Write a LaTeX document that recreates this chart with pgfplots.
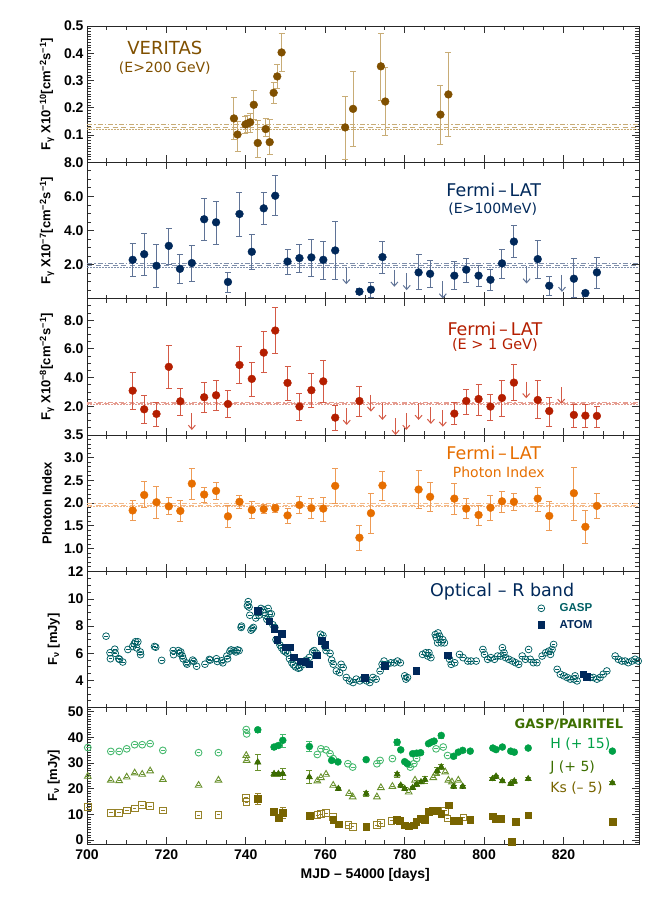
\documentclass[border=0pt]{standalone}
\usepackage{fontspec}
\setmainfont{Liberation Sans}
\newfontfamily\dv{DejaVu Sans}
\usepackage{pgfplots}
\pgfplotsset{compat=1.18}
\usepackage{pgfplotstable}
\usetikzlibrary{arrows.meta}

\definecolor{ver}{RGB}{128,80,0}
\definecolor{verE}{RGB}{200,172,118}
\definecolor{lat}{RGB}{0,40,90}
\definecolor{latE}{RGB}{95,115,150}
\definecolor{gev}{RGB}{180,30,0}
\definecolor{gevE}{RGB}{212,90,70}
\definecolor{idx}{RGB}{230,110,0}
\definecolor{idxE}{RGB}{238,155,85}
\definecolor{gasp}{RGB}{0,95,100}
\definecolor{atom}{RGB}{0,40,90}
\definecolor{hb}{RGB}{0,160,70}
\definecolor{hbO}{RGB}{70,185,110}
\definecolor{jb}{RGB}{60,110,0}
\definecolor{jbO}{RGB}{105,145,45}
\definecolor{kb}{RGB}{120,100,0}
\definecolor{kbO}{RGB}{150,130,40}

% open symbols with the small error dash inside
\pgfdeclareplotmark{odash}{%
  \pgfpathcircle{\pgfpointorigin}{\pgfplotmarksize}\pgfusepathqstroke
  \pgfpathmoveto{\pgfqpoint{-0.55\pgfplotmarksize}{0pt}}%
  \pgfpathlineto{\pgfqpoint{0.55\pgfplotmarksize}{0pt}}\pgfusepathqstroke}
\pgfdeclareplotmark{sdash}{%
  \pgfpathrectangle{\pgfqpoint{-\pgfplotmarksize}{-\pgfplotmarksize}}{\pgfqpoint{2\pgfplotmarksize}{2\pgfplotmarksize}}\pgfusepathqstroke
  \pgfpathmoveto{\pgfqpoint{-0.55\pgfplotmarksize}{0pt}}%
  \pgfpathlineto{\pgfqpoint{0.55\pgfplotmarksize}{0pt}}\pgfusepathqstroke}
\pgfdeclareplotmark{tdash}{%
  \pgfpathmoveto{\pgfqpointpolar{90}{1.2\pgfplotmarksize}}%
  \pgfpathlineto{\pgfqpointpolar{210}{1.2\pgfplotmarksize}}%
  \pgfpathlineto{\pgfqpointpolar{330}{1.2\pgfplotmarksize}}%
  \pgfpathclose\pgfusepathqstroke
  \pgfpathmoveto{\pgfqpoint{-0.45\pgfplotmarksize}{0pt}}%
  \pgfpathlineto{\pgfqpoint{0.45\pgfplotmarksize}{0pt}}\pgfusepathqstroke}

\pgfplotsset{
  panel/.style={
    scale only axis, width=552pt, height=136.33pt, anchor=south west,
    xmin=700, xmax=839,
    xtick={700,720,...,820}, minor xtick={705,710,...,835}, xticklabels={},
    tick align=inside, major tick length=7pt, minor tick length=4pt,
    tick style={black!80, line width=0.8pt},
    axis line style={black!85, line width=0.9pt},
    yticklabel style={font=\bfseries\fontsize{14}{14}\selectfont},
    ylabel style={font=\bfseries\fontsize{13}{13}\selectfont,
      at={(axis description cs:-0.0725,0.5)}, anchor=center},
  },
  ebar/.style={only marks, mark=none, forget plot,
    error bars/.cd, y dir=both, y explicit,
    error bar style={line width=1pt, color=#1, mark size=3pt}},
  dot/.style={only marks, mark=*, mark size=3.9pt, color=#1},
  ul/.style={quiver={u=0,v=#1}, mark=none, line width=1pt,
    -{Straight Barb[length=4pt,width=7pt]}},
  mdot/.style={line width=0.8pt, dash pattern=on 1.6pt off 1.4pt, forget plot},
  mdash/.style={line width=0.8pt, dash pattern=on 5pt off 3.5pt, forget plot},
  mdd/.style={line width=0.8pt, dash pattern=on 5pt off 2pt on 1.5pt off 2pt, forget plot},
}

% ---------------- data ----------------
\pgfplotstableread{
x y lo hi
737.0 0.161 0.083 0.240
737.9 0.102 0.040 0.151
739.9 0.139 0.105 0.169
740.4 0.142 0.110 0.172
741.1 0.147 0.110 0.180
742.0 0.211 0.157 0.265
743.0 0.071 0.017 0.154
745.0 0.122 0.094 0.160
746.0 0.074 0.030 0.157
747.0 0.255 0.218 0.295
747.9 0.315 0.272 0.360
749.0 0.403 0.335 0.475
765.0 0.128 0.010 0.244
767.0 0.196 0.059 0.333
774.0 0.352 0.228 0.475
775.1 0.223 0.098 0.348
789.0 0.175 0.065 0.284
791.0 0.249 0.094 0.403
}\tver

\pgfplotstableread{
x y lo hi
711.5 2.28 1.33 3.27
714.4 2.61 1.40 3.84
717.5 1.93 0.66 3.18
720.6 3.10 2.05 4.15
723.4 1.75 0.92 2.63
726.4 2.09 1.03 3.12
729.5 4.66 3.41 5.87
732.5 4.48 3.22 5.73
735.5 0.98 0.39 1.54
738.4 4.97 3.67 6.26
741.5 2.75 1.74 3.76
744.5 5.30 4.37 6.26
747.4 6.04 4.89 7.23
750.5 2.18 1.46 2.92
753.5 2.38 1.58 3.18
756.5 2.42 1.30 3.49
759.5 2.28 1.17 3.39
762.5 2.83 1.17 4.52
768.6 0.41 0.25 0.60
771.5 0.53 0.10 0.95
774.4 2.44 1.50 3.37
783.5 1.54 0.53 2.61
786.4 1.46 0.68 2.28
792.5 1.35 0.53 2.18
795.5 1.70 0.99 2.36
798.6 1.35 0.72 1.99
801.6 1.11 0.47 1.75
804.5 2.07 1.21 2.92
807.5 3.35 2.44 4.29
813.5 2.32 1.21 3.41
816.4 0.76 0.19 1.30
822.6 1.17 0.10 2.36
825.5 0.33 0.15 0.50
828.4 1.54 0.63 2.44
}\tlat

\pgfplotstableread{
x y
765.3 1.85
777.4 1.70
780.5 1.50
789.6 1.01
810.7 1.89
819.6 1.40
}\tlatul

\pgfplotstableread{
x y lo hi
711.5 3.09 1.81 4.35
714.4 1.79 0.82 2.79
717.5 1.47 0.63 2.32
720.6 4.75 3.26 6.26
723.5 2.35 1.37 3.28
729.5 2.63 1.60 3.65
732.5 2.77 1.74 3.84
735.5 2.16 1.23 3.14
738.4 4.88 3.61 6.16
741.5 3.91 2.72 5.05
744.5 5.74 4.37 7.21
747.4 7.28 5.70 8.88
750.5 3.63 2.44 4.81
753.5 1.98 1.05 2.88
756.5 3.12 1.93 4.28
759.5 3.74 2.30 5.19
762.5 1.21 0.35 2.09
768.6 2.37 1.28 3.40
792.5 1.49 0.75 2.30
795.5 2.37 1.47 3.21
798.6 2.51 1.40 3.51
801.6 1.98 1.05 2.86
804.5 2.58 1.28 3.82
807.5 3.65 2.39 4.93
813.5 2.44 1.16 3.82
816.4 1.67 0.63 2.60
822.6 1.40 0.54 2.16
825.5 1.35 0.54 2.14
828.4 1.33 0.54 2.04
}\tgev

\pgfplotstableread{
x y
726.4 1.51
765.4 1.86
771.5 2.79
774.4 2.21
777.7 1.16
780.4 1.51
783.5 2.21
786.6 1.93
789.6 1.74
810.6 3.72
819.4 3.33
}\tgevul

\pgfplotstableread{
x y lo hi
711.5 1.84 1.63 2.06
714.4 2.18 1.91 2.48
717.5 2.02 1.67 2.37
720.6 1.93 1.75 2.13
723.5 1.83 1.61 2.06
726.4 2.43 2.09 2.78
729.5 2.19 2.02 2.35
732.5 2.27 2.09 2.46
735.5 1.71 1.47 1.95
738.4 2.03 1.89 2.18
741.5 1.85 1.68 2.04
744.5 1.87 1.77 1.97
747.4 1.89 1.80 1.98
750.5 1.73 1.56 1.90
753.5 1.96 1.78 2.15
756.5 1.89 1.67 2.10
759.5 1.88 1.60 2.13
762.5 2.38 2.01 2.77
768.6 1.24 0.97 1.51
771.5 1.78 1.34 2.22
774.4 2.39 2.07 2.70
783.5 2.30 1.89 2.72
786.4 2.14 1.83 2.46
792.5 2.10 1.76 2.44
795.5 1.88 1.67 2.10
798.6 1.74 1.52 1.96
801.6 1.90 1.63 2.18
804.5 2.04 1.80 2.26
807.5 2.03 1.85 2.21
813.5 2.10 1.83 2.35
816.4 1.72 1.40 2.04
822.6 2.22 1.63 2.79
825.5 1.48 1.12 1.85
828.4 1.94 1.66 2.22
}\tidx

\pgfplotstableread{
x y
704.8 7.26
705.8 6.04
705.9 5.60
707.0 6.30
707.1 6.00
708.0 5.60
708.2 5.55
709.0 5.36
710.3 6.28
711.5 6.50
711.9 6.70
712.2 6.85
712.5 6.40
712.8 6.85
713.4 6.10
713.5 5.90
717.0 6.50
717.3 6.45
718.8 5.48
721.7 6.20
721.8 5.90
723.0 6.20
723.3 6.00
723.6 6.10
724.0 5.80
724.2 5.60
725.0 5.30
725.2 5.20
726.6 5.50
726.9 5.40
727.6 5.05
729.7 5.20
730.8 5.55
731.0 5.50
732.6 5.60
732.8 5.40
733.9 5.45
734.2 5.30
735.2 5.80
735.4 5.60
736.0 6.15
736.3 6.25
737.0 6.20
737.5 6.10
737.9 6.25
738.3 6.20
738.8 7.90
738.9 8.00
740.4 9.50
740.6 9.80
740.8 9.40
741.0 8.80
741.3 7.70
741.6 7.80
741.9 7.90
742.5 8.60
743.0 9.00
743.3 8.80
743.8 9.30
744.5 9.20
744.9 8.80
745.3 8.50
745.6 9.30
745.9 8.90
746.4 8.90
746.8 8.10
747.3 7.90
747.6 7.00
748.0 6.90
748.6 6.60
749.0 6.40
749.5 6.20
750.0 6.10
750.5 6.00
751.0 5.60
751.6 5.30
752.0 5.15
752.5 5.00
753.2 4.90
753.6 4.95
754.5 5.20
755.2 5.50
756.0 5.70
756.8 6.10
757.2 6.20
757.8 6.00
758.8 7.40
759.4 7.30
759.9 6.50
760.2 6.20
761.2 6.00
761.6 5.50
762.0 5.20
762.8 4.70
763.6 4.58
764.0 5.19
764.5 4.95
765.3 4.22
766.1 3.97
767.0 3.85
767.8 4.10
768.7 3.97
769.5 4.10
770.4 3.97
771.2 3.85
772.0 4.22
772.8 4.10
773.8 4.70
774.3 5.19
774.8 5.43
775.6 5.19
776.5 5.30
777.4 5.30
778.2 5.43
778.9 5.30
780.0 4.34
780.3 4.10
780.7 4.22
784.5 5.92
785.3 6.04
785.8 5.80
786.1 6.04
786.6 5.68
787.7 7.38
788.0 7.14
788.3 6.77
788.4 7.50
788.8 7.26
789.2 6.77
789.6 7.00
790.0 6.77
791.3 5.56
791.7 5.19
792.6 5.30
793.8 5.92
794.7 5.68
795.9 5.43
796.7 5.43
798.0 5.43
799.7 6.28
800.1 5.92
800.9 5.56
801.7 5.68
802.6 5.56
803.4 5.80
804.2 5.80
804.6 6.41
805.0 6.04
805.4 5.68
806.2 5.56
807.1 5.43
807.9 5.31
808.7 5.19
809.6 5.80
810.4 5.56
811.2 6.28
811.6 5.56
812.4 5.31
813.3 5.31
814.6 5.80
815.5 6.04
816.3 6.16
816.7 5.92
817.1 6.28
817.5 6.65
818.4 4.82
819.2 4.46
820.1 4.34
820.9 4.22
821.7 4.10
822.6 4.10
822.9 4.34
823.4 3.97
826.7 4.22
827.5 4.22
828.4 4.10
829.2 4.22
830.0 4.46
830.9 4.70
833.0 5.80
833.8 5.56
834.7 5.43
835.5 5.43
836.3 5.31
837.2 5.43
838.0 5.56
838.8 5.43
}\tgasp

\pgfplotstableread{
x y
743.0 9.13
745.9 8.35
747.1 7.80
747.9 7.00
749.0 7.43
750.1 6.45
751.0 6.45
752.0 5.72
753.8 5.43
754.9 5.40
756.0 5.19
757.8 5.87
759.1 6.94
760.0 6.65
769.9 4.22
774.9 5.07
782.9 4.70
790.8 5.87
824.9 4.46
825.9 4.27
}\tatom

% near-IR: open = GASP, filled = PAIRITEL
\pgfplotstableread{
x y
700.2 36.0
706.0 34.5
708.1 34.5
710.0 35.5
712.0 37.1
713.9 37.1
715.9 37.5
719.1 34.9
728.1 34.0
733.1 34.0
740.1 43.0
740.2 41.3
758.0 33.3
758.9 35.5
760.2 35.1
761.2 33.6
762.0 31.7
765.7 29.7
766.9 28.4
773.0 29.7
773.8 31.0
776.9 31.7
781.4 28.4
782.3 29.7
783.0 31.7
787.9 35.5
789.7 36.2
790.8 32.9
}\thO
\pgfplotstableread{
x y e
743.0 42.9 0.8
747.1 36.2 0.8
748.2 36.8 0.8
749.3 38.8 2.5
756.0 36.4 2.0
761.6 31.0 0.6
763.2 30.4 0.6
770.3 31.3 0.6
778.1 38.1 1.2
779.0 35.1 0.6
780.0 30.5 0.6
780.7 29.7 0.6
782.0 33.6 0.6
783.0 33.8 0.6
784.0 34.0 0.6
786.0 37.5 0.6
786.7 38.1 0.6
787.4 38.5 0.6
789.2 40.7 1.0
792.3 32.6 0.6
793.5 34.2 0.6
794.6 34.9 0.6
796.5 34.6 0.6
802.2 35.8 0.6
803.0 35.2 0.6
804.6 36.2 0.6
806.7 34.6 0.6
807.6 34.2 0.6
811.1 35.8 0.6
832.3 34.6 0.6
}\thF
\pgfplotstableread{
x y
700.2 24.8
706.0 23.3
708.1 23.1
710.0 24.5
712.0 26.1
713.9 25.6
715.9 26.9
719.1 23.6
728.1 21.3
733.1 23.3
740.1 32.9
740.2 31.0
758.0 23.0
758.9 24.3
760.2 25.6
762.0 21.3
766.0 18.1
766.9 16.8
773.0 16.8
774.0 20.4
776.9 20.9
781.0 18.7
782.6 23.3
787.2 24.3
787.9 26.1
790.2 26.5
791.0 23.3
791.9 22.6
793.5 23.3
}\tjO
\pgfplotstableread{
x y e
743.0 30.3 3.0
747.1 25.8 0.8
748.2 25.8 0.8
749.3 25.8 2.0
756.0 24.5 2.5
763.3 20.0 0.6
770.3 18.1 1.0
778.1 25.6 1.0
779.0 21.3 0.6
780.0 20.0 0.6
782.0 20.4 0.6
783.0 21.7 0.6
784.1 22.6 0.6
785.1 23.5 1.2
788.2 26.9 1.5
789.2 28.4 1.0
792.3 20.9 0.6
794.6 20.9 0.6
802.1 23.8 0.6
803.0 24.8 0.6
804.6 23.0 0.6
806.7 22.0 0.6
807.6 22.9 0.6
811.1 23.8 0.6
832.3 22.2 0.6
}\tjF
\pgfplotstableread{
x y
700.2 12.9
706.0 10.6
708.1 10.6
710.0 11.6
712.0 12.3
713.9 13.6
715.9 13.2
719.1 11.6
728.1 9.7
733.1 9.9
740.1 16.5
740.2 14.8
758.0 9.7
758.9 10.1
760.2 10.5
761.9 9.0
765.8 5.8
766.9 5.2
773.0 5.8
774.0 6.6
776.7 7.5
788.0 11.6
790.2 11.4
790.8 8.4
794.8 8.8
}\tkO
\pgfplotstableread{
x y e
743.0 16.1 2.3
747.1 11.0 0.8
748.2 8.8 0.8
749.3 10.7 2.0
756.0 9.4 0.6
762.0 8.0 0.6
763.3 6.2 0.6
770.3 5.2 0.6
778.0 7.9 0.6
778.8 7.6 0.6
780.0 5.8 0.6
781.0 5.4 0.6
782.2 5.8 0.6
782.9 7.1 0.6
784.0 8.4 0.6
785.1 8.0 0.6
786.1 11.0 0.6
787.1 11.6 0.6
788.2 11.4 1.0
789.2 10.3 0.6
791.0 13.6 0.6
792.3 7.5 0.6
793.5 7.5 0.6
796.5 8.1 0.6
802.1 9.3 0.6
803.0 8.4 0.6
804.1 8.4 0.6
807.0 -0.7 0.6
808.0 7.1 0.6
811.1 9.7 0.6
832.3 7.1 0.6
}\tkF

\begin{document}
\begin{tikzpicture}
\useasboundingbox (0,0) rectangle (664pt,899pt);

% ---------- VERITAS ----------
\begin{axis}[panel, at={(87pt,736.67pt)}, ymin=0, ymax=0.5,
  ytick={0.1,0.2,0.3,0.4,0.5}, yticklabels={0.1,0.2,0.3,0.4,0.5},
  minor ytick={0.01,0.02,...,0.495},
  ylabel={F\textsubscript{γ} X10\textsuperscript{−10}[cm\textsuperscript{−2}s\textsuperscript{−1}]}]
\addplot[mdd, verE] coordinates {(700,0.139)(839,0.139)};
\addplot[mdash, verE] coordinates {(700,0.128)(839,0.128)};
\addplot[mdot, verE] coordinates {(700,0.119)(839,0.119)};
\addplot[ebar=verE] table[x=x,y=y,y error plus expr=\thisrow{hi}-\thisrow{y},y error minus expr=\thisrow{y}-\thisrow{lo}] \tver;
\addplot[dot=ver] table[x=x,y=y] \tver;
\node[ver, font=\dv\fontsize{18}{20}\selectfont] at (rel axis cs:0.141,0.839) {VERITAS};
\node[ver, font=\dv\fontsize{14}{16}\selectfont] at (rel axis cs:0.141,0.692) {(E>200 GeV)};
\end{axis}

% ---------- Fermi E>100 MeV ----------
\begin{axis}[panel, at={(87pt,600.33pt)}, ymin=0, ymax=8,
  ytick={2,4,6,8}, yticklabels={2.0,4.0,6.0,8.0},
  minor ytick={0.5,1,...,7.5},
  ylabel={F\textsubscript{γ} X10\textsuperscript{−7}[cm\textsuperscript{−2}s\textsuperscript{−1}]}]
\addplot[mdd, latE!80] coordinates {(700,2.08)(839,2.08)};
\addplot[mdash, latE!80] coordinates {(700,1.95)(839,1.95)};
\addplot[mdot, latE!80] coordinates {(700,1.83)(839,1.83)};
\addplot[ebar=latE] table[x=x,y=y,y error plus expr=\thisrow{hi}-\thisrow{y},y error minus expr=\thisrow{y}-\thisrow{lo}] \tlat;
\addplot[dot=lat] table[x=x,y=y] \tlat;
\addplot[ul=-1.0, latE] table[x=x,y=y] \tlatul;
\node[lat, font=\dv\fontsize{17.5}{20}\selectfont] at (rel axis cs:0.737,0.797) {Fermi\,–\,LAT};
\node[lat, font=\dv\fontsize{14}{16}\selectfont] at (rel axis cs:0.735,0.658) {(E>100MeV)};
\end{axis}

% ---------- Fermi E>1 GeV ----------
\begin{axis}[panel, at={(87pt,464pt)}, ymin=0, ymax=9.5,
  ytick={2,4,6,8}, yticklabels={2.0,4.0,6.0,8.0},
  minor ytick={0.5,1,...,9.5},
  ylabel={F\textsubscript{γ} X10\textsuperscript{−8}[cm\textsuperscript{−2}s\textsuperscript{−1}]}]
\addplot[mdd, gevE!60] coordinates {(700,2.29)(839,2.29)};
\addplot[mdash, gevE!60] coordinates {(700,2.20)(839,2.20)};
\addplot[mdot, gevE!60] coordinates {(700,2.11)(839,2.11)};
\addplot[ebar=gevE] table[x=x,y=y,y error plus expr=\thisrow{hi}-\thisrow{y},y error minus expr=\thisrow{y}-\thisrow{lo}] \tgev;
\addplot[dot=gev] table[x=x,y=y] \tgev;
\addplot[ul=-1.16, gevE] table[x=x,y=y] \tgevul;
\node[gev, font=\dv\fontsize{17.5}{20}\selectfont] at (rel axis cs:0.739,0.778) {Fermi\,–\,LAT};
\node[gev, font=\dv\fontsize{14.5}{16}\selectfont] at (rel axis cs:0.739,0.660) {(E > 1 GeV)};
\end{axis}

% ---------- photon index ----------
\begin{axis}[panel, at={(87pt,327.67pt)}, ymin=0.5, ymax=3.5,
  ytick={1,1.5,2,2.5,3,3.5}, yticklabels={1.0,1.5,2.0,2.5,3.0,3.5},
  minor ytick={0.6,0.7,...,3.45},
  ylabel={Photon Index}]
\addplot[mdd, idxE!70] coordinates {(700,1.99)(839,1.99)};
\addplot[mdash, idxE!70] coordinates {(700,1.96)(839,1.96)};
\addplot[mdot, idxE!70] coordinates {(700,1.93)(839,1.93)};
\addplot[ebar=idxE] table[x=x,y=y,y error plus expr=\thisrow{hi}-\thisrow{y},y error minus expr=\thisrow{y}-\thisrow{lo}] \tidx;
\addplot[dot=idx] table[x=x,y=y] \tidx;
\node[idx, font=\dv\fontsize{17.5}{20}\selectfont] at (rel axis cs:0.737,0.868) {Fermi\,–\,LAT};
\node[idx, font=\dv\fontsize{14}{16}\selectfont] at (rel axis cs:0.746,0.729) {Photon Index};
\end{axis}

% ---------- optical R band ----------
\begin{axis}[panel, at={(87pt,191.33pt)}, ymin=2, ymax=12.03,
  ytick={4,6,8,10,12}, yticklabels={4,6,8,10,12},
  minor ytick={2.5,3,...,11.5},
  ylabel={F\textsubscript{ν} [mJy]},
  ylabel style={at={(axis description cs:-0.06,0.5)}},
  legend image code/.code={\draw[#1] plot coordinates {(0pt,0pt)};},
  legend style={at={(axis description cs:0.8165,0.78)}, anchor=north west,
    draw=none, fill=none, inner sep=0pt, row sep=3pt,
    font=\bfseries\fontsize{11.5}{12}\selectfont,
    /tikz/every odd column/.append style={column sep=13pt}},
  legend cell align=left]
\addplot[only marks, mark=odash, mark size=3.4pt, line width=0.75pt, gasp] table[x=x,y=y] \tgasp;
\addlegendentry{\textcolor{gasp}{GASP}}
\addplot[only marks, mark=square*, mark size=3.3pt, atom] table[x=x,y=y] \tatom;
\addlegendentry{\textcolor{atom}{ATOM}}
\node[atom, font=\dv\fontsize{17.5}{20}\selectfont] at (rel axis cs:0.752,0.848) {Optical\,\,–\,\,R band};
\end{axis}

% ---------- near IR ----------
\begin{axis}[panel, at={(87pt,55pt)}, ymin=-1.5, ymax=51.5,
  ytick={0,10,...,50}, yticklabels={0,10,20,30,40,50},
  minor ytick={-1,0,...,51},
  xticklabels={700,720,740,760,780,800,820},
  xticklabel style={font=\bfseries\fontsize{14}{14}\selectfont, yshift=-2pt},
  xlabel={MJD – 54000 [days]},
  xlabel style={font=\bfseries\fontsize{14}{14}\selectfont, at={(axis description cs:0.504,-0.227)}, anchor=center},
  ylabel={F\textsubscript{ν} [mJy]},
  ylabel style={at={(axis description cs:-0.06,0.5)}}]
\addplot[only marks, mark=odash, mark size=3.4pt, line width=0.9pt, hbO] table[x=x,y=y] \thO;
\addplot[only marks, mark=tdash, mark size=3.2pt, line width=0.9pt, jbO] table[x=x,y=y] \tjO;
\addplot[only marks, mark=sdash, mark size=3.3pt, line width=0.9pt, kbO] table[x=x,y=y] \tkO;
\addplot[ebar=hbO] table[x=x,y=y,y error=e] \thF;
\addplot[ebar=jbO] table[x=x,y=y,y error=e] \tjF;
\addplot[ebar=kbO] table[x=x,y=y,y error=e] \tkF;
\addplot[only marks, mark=*, mark size=3.5pt, hb] table[x=x,y=y] \thF;
\addplot[only marks, mark=triangle*, mark size=3.7pt, jb] table[x=x,y=y] \tjF;
\addplot[only marks, mark=square*, mark size=3.4pt, kb] table[x=x,y=y] \tkF;
\node[jb, font=\dv\bfseries\fontsize{13}{15}\selectfont] at (rel axis cs:0.873,0.880) {GASP/PAIRITEL};
\node[hb, anchor=west, font=\dv\fontsize{14}{16}\selectfont] at (rel axis cs:0.833,0.733) {H (+ 15)};
\node[jb, anchor=west, font=\dv\fontsize{14}{16}\selectfont] at (rel axis cs:0.833,0.557) {J (+ 5)};
\node[kb, anchor=west, font=\dv\fontsize{14}{16}\selectfont] at (rel axis cs:0.833,0.411) {Ks (– 5)};
\end{axis}
\end{tikzpicture}
\end{document}
